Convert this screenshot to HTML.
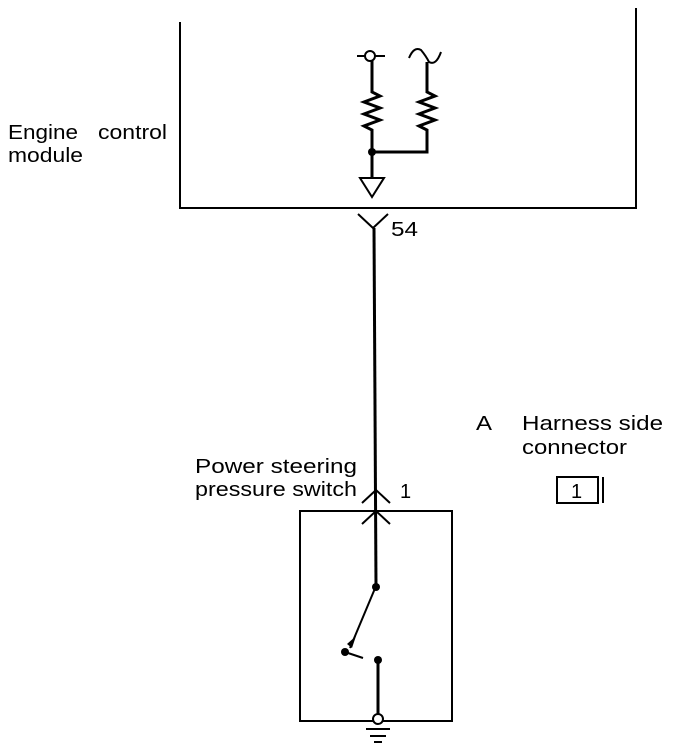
<!DOCTYPE html>
<html><head><style>
html,body{margin:0;padding:0;background:#fff;}
svg{display:block;}
text{font-family:"Liberation Sans",sans-serif;font-size:20px;fill:#000;}
</style></head><body>
<svg width="688" height="752" viewBox="0 0 688 752" xmlns="http://www.w3.org/2000/svg">
<g stroke="#000" fill="none" stroke-width="2">
<polyline points="180,22 180,208 636,208 636,8"/>
<line x1="357" y1="56" x2="385" y2="56"/>
<circle cx="370" cy="56" r="5" fill="#fff"/>
<polyline stroke-width="3" points="372,61 372,92 380,96 364,102 380,108 364,114 380,120 364,126 372,130 372,152 372,178"/>
<polygon points="360,178 384,178 372,197" stroke-width="2"/>
<path d="M409,58 Q414,46 421,50 Q426,56 429,62 Q436,66 441,52"/>
<polyline stroke-width="3" points="427,62 427,92 435,96 419,102 435,108 419,114 435,120 419,126 427,130 427,152 372,152"/>
<polyline points="358,214 373,228 388,214"/>
<line x1="374" y1="228" x2="376" y2="586" stroke-width="3"/>
<rect x="300" y="511" width="152" height="210"/>
<polyline points="362,503 376,490 390,503"/>
<polyline points="362,524 376,511 390,524"/>
<line x1="376" y1="586" x2="350" y2="648"/>
<line x1="345" y1="652" x2="363" y2="658"/>
<line x1="378" y1="660" x2="378" y2="714" stroke-width="3"/>
<circle cx="378" cy="719" r="5" fill="#fff"/>
<line x1="366" y1="729" x2="390" y2="729"/>
<line x1="370" y1="736" x2="386" y2="736"/>
<line x1="374" y1="742" x2="382" y2="742"/>
<rect x="557" y="477" width="41" height="26"/>
<line x1="603" y1="477" x2="603" y2="503"/>
</g>
<g fill="#000">
<circle cx="372" cy="152" r="4"/>
<circle cx="376" cy="587" r="4"/>
<circle cx="345" cy="652" r="4"/>
<circle cx="378" cy="660" r="4"/>
<polygon points="347,644 356,636 352,648"/>
</g>
<text x="8" y="139" textLength="70" lengthAdjust="spacingAndGlyphs">Engine</text>
<text x="98" y="139" textLength="69" lengthAdjust="spacingAndGlyphs">control</text>
<text x="8" y="162" textLength="75" lengthAdjust="spacingAndGlyphs">module</text>
<text x="391" y="236" textLength="27" lengthAdjust="spacingAndGlyphs">54</text>
<text x="195" y="473" textLength="162" lengthAdjust="spacingAndGlyphs">Power steering</text>
<text x="195" y="496" textLength="162" lengthAdjust="spacingAndGlyphs">pressure switch</text>
<text x="400" y="498" font-size="21">1</text>
<text x="476" y="430" textLength="16" lengthAdjust="spacingAndGlyphs">A</text>
<text x="522" y="430" textLength="141" lengthAdjust="spacingAndGlyphs">Harness side</text>
<text x="522" y="454" textLength="105" lengthAdjust="spacingAndGlyphs">connector</text>
<text x="571" y="498" font-size="21">1</text>
</svg>
</body></html>
